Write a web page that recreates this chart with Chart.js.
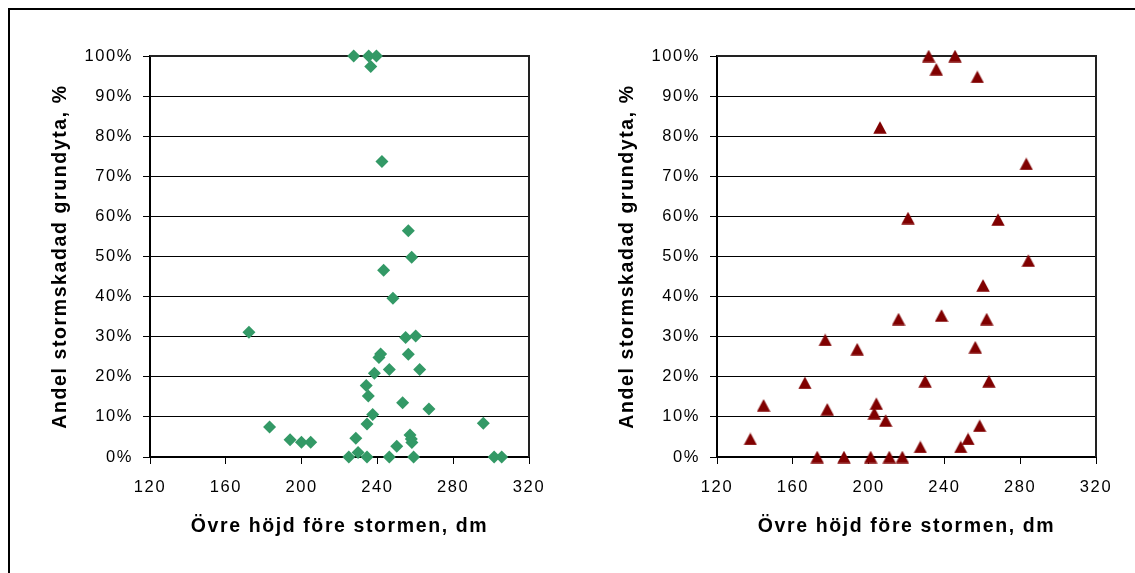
<!DOCTYPE html>
<html>
<head>
<meta charset="utf-8">
<script src="https://cdn.jsdelivr.net/npm/chart.js@4.4.1/dist/chart.umd.min.js"></script>
<style>
  html, body { margin: 0; padding: 0; background: #fff; }
  #page { position: relative; width: 1135px; height: 573px; overflow: hidden; }
  #frame { position: absolute; left: 8px; top: 8px; right: -10px; bottom: -10px;
           border-top: 2px solid #000; border-left: 2px solid #000; }
  canvas { position: absolute; top: 0; }
  #left { left: 0; }
  #right { left: 567px; }
</style>
</head>
<body>
<div id="page">
  <div id="frame"></div>
  <canvas id="left" width="567" height="573"></canvas>
  <canvas id="right" width="568" height="573"></canvas>
</div>
<script>
// data
var greenHeight = [227.5, 235.4, 239.5, 236.5, 242.4, 256.3, 258.1, 243.3, 248.2,
    172.2, 254.9, 260.2, 256.3, 240.8, 241.7, 246.3, 262.3, 238.4, 234.1, 235.2,
    253.3, 267.2, 237.5, 234.5, 295.9, 183.1, 193.9, 199.9, 204.8, 228.6, 257.2,
    257.9, 258.2, 250.2, 224.9, 229.8, 234.5, 246.3, 259.1, 301.6, 305.6];
var greenDamage = [100, 100, 100, 97.4, 73.7, 56.4, 49.8, 46.6, 39.6,
    31.1, 29.8, 30.2, 25.6, 24.8, 25.7, 21.8, 21.8, 20.9, 17.8, 15.2,
    13.5, 12.0, 10.6, 8.2, 8.4, 7.5, 4.3, 3.7, 3.7, 4.7, 5.5,
    4.5, 3.6, 2.7, 0, 1.1, 0, 0, 0, 0, 0];

var redHeight = [231.7, 245.6, 235.7, 257.4, 206, 283.2, 220.8, 268.3, 284.3,
    260.4, 215.8, 238.5, 262.3, 177.1, 194, 256.3, 166.4, 229.8, 263.5, 144.6,
    178.2, 204.1, 203, 209, 258.6, 137.6, 252.5, 227.3, 248.6, 172.9, 187,
    201.1, 210.9, 217.8];
var redDamage = [100, 100, 96.7, 94.8, 82.2, 73.1, 59.6, 59.2, 49.0,
    42.8, 34.4, 35.3, 34.4, 29.2, 26.9, 27.4, 18.5, 18.9, 18.9, 12.9,
    11.9, 13.3, 10.9, 9.1, 7.8, 4.5, 4.5, 2.5, 2.5, 0, 0,
    0, 0, 0];

var xTickValues = [120, 160, 200, 240, 280, 320];
var yTickValues = [0, 10, 20, 30, 40, 50, 60, 70, 80, 90, 100];
var xTitle = 'Övre höjd före stormen, dm';
var yTitle = 'Andel stormskadad grundyta, %';

var fam = '"Liberation Sans", Arial, sans-serif';

// excel-like triangle marker, centred on the point
function triangleMarker(color) {
    var c = document.createElement('canvas');
    c.width = 14; c.height = 13;
    var g = c.getContext('2d');
    g.fillStyle = color;
    g.beginPath();
    g.moveTo(7, 0.3);
    g.lineTo(13.7, 12.7);
    g.lineTo(0.3, 12.7);
    g.closePath();
    g.fill();
    return c;
}

var spacing = {
    id: 'spacing',
    beforeLayout: function(chart) { chart.ctx.letterSpacing = '1.6px'; },
    beforeDraw: function(chart) { chart.ctx.letterSpacing = '1.6px'; }
};

var plotFrame = {
    id: 'plotFrame',
    beforeDatasetsDraw: function(chart) {
        var a = chart.chartArea, ctx = chart.ctx;
        ctx.save();
        ctx.strokeStyle = '#222';
        ctx.lineWidth = 2;
        ctx.beginPath();
        ctx.moveTo(a.left, a.top);
        ctx.lineTo(a.right, a.top);
        ctx.lineTo(a.right, a.bottom);
        ctx.stroke();
        ctx.restore();
    }
};

function makeChart(id, xs, ys, style, color, radius, padRight) {
    var pts = xs.map(function(x, i) { return { x: x, y: ys[i] }; });
    return new Chart(document.getElementById(id), {
        type: 'scatter',
        data: {
            datasets: [{
                data: pts,
                pointStyle: style,
                pointRadius: radius,
                pointHoverRadius: radius,
                backgroundColor: color,
                borderColor: color,
                borderWidth: 0,
                clip: false
            }]
        },
        options: {
            responsive: false,
            animation: false,
            layout: { padding: { left: 49, right: padRight, top: 56, bottom: 35 } },
            plugins: { legend: { display: false }, tooltip: { enabled: false } },
            scales: {
                x: {
                    type: 'linear',
                    min: 120,
                    max: 320,
                    afterBuildTicks: function(s) { s.ticks = xTickValues.map(function(v) { return { value: v }; }); },
                    afterFit: function(s) { s.height = 81; },
                    grid: { drawOnChartArea: false, drawTicks: true, tickLength: 7, color: '#000', lineWidth: 1 },
                    border: { display: true, color: '#000', width: 2 },
                    ticks: { color: '#000', font: { family: fam, size: 16.5 }, padding: 14, maxRotation: 0 },
                    title: { display: true, text: xTitle, color: '#000', padding: 0,
                             font: { family: fam, size: 19.5, weight: 'bold' } }
                },
                y: {
                    min: 0,
                    max: 100,
                    afterBuildTicks: function(s) { s.ticks = yTickValues.map(function(v) { return { value: v }; }); },
                    afterFit: function(s) { s.width = 101; },
                    grid: { color: '#000', lineWidth: 1, tickLength: 7 },
                    border: { display: true, color: '#000', width: 2 },
                    ticks: { color: '#000', font: { family: fam, size: 16.5 }, padding: 10,
                             callback: function(v) { return v + '%'; } },
                    title: { display: true, text: yTitle, color: '#000', padding: 0,
                             font: { family: fam, size: 19.5, weight: 'bold' } }
                }
            }
        },
        plugins: [spacing, plotFrame]
    });
}

makeChart('left', greenHeight, greenDamage, 'rectRot', '#339966', 6.5, 38);
makeChart('right', redHeight, redDamage, triangleMarker('#800000'), '#800000', 7, 39);
</script>
</body>
</html>
